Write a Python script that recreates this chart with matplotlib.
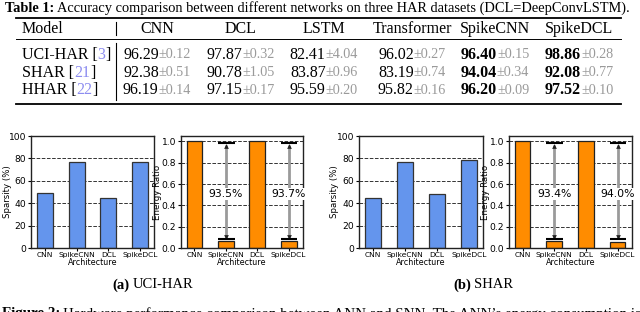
import matplotlib
matplotlib.use("Agg")
import matplotlib.pyplot as plt
from matplotlib.lines import Line2D

# ---- table data ----
models = ["CNN", "DCL", "LSTM", "Transformer", "SpikeCNN", "SpikeDCL"]
datasets = ["UCI-HAR", "SHAR", "HHAR"]
refs = ["3", "21", "22"]
acc_mean = [
    [96.29, 97.87, 82.41, 96.02, 96.40, 98.86],
    [92.38, 90.78, 83.87, 83.19, 94.04, 92.08],
    [96.19, 97.15, 95.59, 95.82, 96.20, 97.52],
]
acc_std = [
    [0.12, 0.32, 4.04, 0.27, 0.15, 0.28],
    [0.51, 1.05, 0.96, 0.74, 0.34, 0.77],
    [0.14, 0.17, 0.20, 0.16, 0.09, 0.10],
]
bold_models = ["SpikeCNN", "SpikeDCL"]

# ---- figure data ----
archs = ["CNN", "SpikeCNN", "DCL", "SpikeDCL"]
sparsity_uci = [49, 77, 45, 77]
sparsity_shar = [45, 77, 48, 79]
energy_uci = [1.0, 0.065, 1.0, 0.063]
energy_shar = [1.0, 0.066, 1.0, 0.060]

W, H = 640, 312
SERIF = "Liberation Serif"

fig = plt.figure(figsize=(W / 100, H / 100), dpi=100)
rend = fig.canvas.get_renderer()


def fx(x):
    return x / W


def fy(y):
    return 1 - y / H


def measure(pieces, size):
    props, widths = [], []
    for s, p in pieces:
        kw = {"fontsize": size, "family": SERIF}
        kw.update(p)
        props.append(kw)
        t = fig.text(0, 0, s, **kw)
        widths.append(t.get_window_extent(renderer=rend).width)
        t.remove()
    return props, widths


def put(x, y, pieces, ha="left", size=11.5, gap=0.0, fit=None):
    """Draw text made of differently styled pieces side by side (pixel coords)."""
    props, widths = measure(pieces, size)
    if fit is not None:
        total = sum(widths) + gap * (len(pieces) - 1)
        size = size * fit / total
        props, widths = measure(pieces, size)
    total = sum(widths) + gap * (len(pieces) - 1)
    x0 = x - total / 2 if ha == "center" else x
    for (s, _), kw, w in zip(pieces, props, widths):
        fig.text(fx(x0), fy(y), s, ha="left", va="center", **kw)
        x0 += w + gap


def hline(x0, x1, y, lw):
    fig.add_artist(Line2D([fx(x0), fx(x1)], [fy(y), fy(y)], color="black", lw=lw))


# ---- table ----
put(5, 8, [("Table 1:", {"weight": "bold"}),
           ("Accuracy comparison between different networks on three HAR datasets (DCL=DeepConvLSTM).", {})],
    size=11, gap=3, fit=628)
hline(16, 621, 17.5, 1.3)
hline(16, 621, 39, 0.7)
hline(16, 621, 104, 1.3)
fig.add_artist(Line2D([fx(116), fx(116)], [fy(22), fy(35)], color="black", lw=0.8))
fig.add_artist(Line2D([fx(116), fx(116)], [fy(43), fy(100)], color="black", lw=0.8))

col_x = [157, 241, 324, 412, 495, 579]
row_y = [55, 72.5, 90]
put(22, 29, [("Model", {})])
for m, cx in zip(models, col_x):
    put(cx, 29, [(m, {})], ha="center")
for i, (d, r) in enumerate(zip(datasets, refs)):
    put(22, row_y[i], [(d + " [", {}), (r, {"color": "#8c8cf0"}), ("]", {})])
    for j, cx in enumerate(col_x):
        wt = "bold" if models[j] in bold_models else "normal"
        put(cx, row_y[i], [(f"{acc_mean[i][j]:.2f}", {"weight": wt}),
                           (f"\u00b1{acc_std[i][j]:.2f}", {"color": "#9a9a9a", "fontsize": 10.2})],
            ha="center")


# ---- bar charts ----
def style(ax):
    ax.set_axisbelow(True)
    ax.yaxis.grid(True, linestyle="--", color="#333333", lw=0.7)
    for sp in ax.spines.values():
        sp.set_linewidth(1.0)
        sp.set_color("#222222")
    ax.tick_params(axis="y", labelsize=6.6, length=2, pad=1.5)
    ax.tick_params(axis="x", labelsize=5.4, length=2, pad=1.2)
    ax.set_xlabel("Architecture", fontsize=5.8, labelpad=0)
    ax.yaxis.set_label_coords(-0.195, 0.5)


def sparsity_panel(rect, vals):
    ax = fig.add_axes(rect)
    ax.bar(archs, vals, width=0.5, color="#6495ED", edgecolor="#333333", lw=0.9)
    ax.set_ylim(0, 100)
    ax.set_yticks(range(0, 101, 20))
    ax.set_ylabel("Sparsity (%)", fontsize=6.2, va="center")
    style(ax)


def energy_panel(rect, vals):
    ax = fig.add_axes(rect)
    ax.bar(archs, vals, width=0.5, color="#FF8C00", edgecolor="#222222", lw=0.9)
    ax.set_ylim(0, 1.05)
    ax.set_yticks([0.0, 0.2, 0.4, 0.6, 0.8, 1.0])
    ax.set_ylabel("Energy Ratio", fontsize=6.2, va="center")
    style(ax)
    for i in (1, 3):
        ax.plot([i, i], [0.09, 0.97], color="#9a9a9a", lw=2.0, solid_capstyle="butt")
        ax.plot([i], [0.955], marker="^", color="#222222", ms=3.4, mew=0)
        ax.plot([i], [0.105], marker="v", color="#222222", ms=3.4, mew=0)
        ax.hlines([0.98, 0.08], i - 0.25, i + 0.28, color="black", lw=1.5)
        saving = (1 - vals[i]) * 100
        ax.text(i, 0.51, f"{saving:.1f}%", ha="center", va="center", fontsize=7.8,
                bbox=dict(fc="white", ec="none", pad=0.8), clip_on=False)


def rect(x0, x1, y0=136, y1=248):
    return [fx(x0), fy(y1), (x1 - x0) / W, (y1 - y0) / H]


sparsity_panel(rect(31, 154), sparsity_uci)
energy_panel(rect(181, 303), energy_uci)
sparsity_panel(rect(359, 483), sparsity_shar)
energy_panel(rect(509, 632), energy_shar)

put(153, 285, [("(a)", {"weight": "bold"}), ("UCI-HAR", {})], ha="center", size=10.5, gap=3)
put(483, 285, [("(b)", {"weight": "bold"}), ("SHAR", {})], ha="center", size=10.5, gap=3)

# caption, cut off by the figure's lower edge as in the source page
put(2, 314, [("Figure 2:", {"weight": "bold"}),
             ("Hardware performance comparison between ANN and SNN. The ANN\u2019s energy consumption is", {})],
    size=10.5, gap=3, fit=638)

fig.savefig("out.png", dpi=100)
